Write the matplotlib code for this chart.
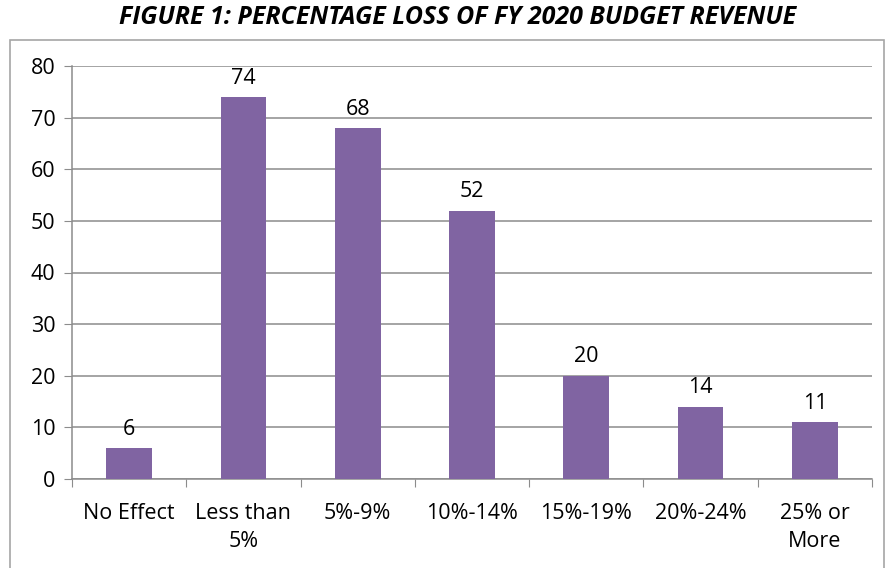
import matplotlib.pyplot as plt
from matplotlib.patches import Rectangle
from matplotlib import font_manager

categories = ["No Effect", "Less than\n5%", "5%-9%", "10%-14%", "15%-19%", "20%-24%", "25% or\nMore"]
values = [6, 74, 68, 52, 20, 14, 11]
yticks = [0, 10, 20, 30, 40, 50, 60, 70, 80]

names = {f.name for f in font_manager.fontManager.ttflist}
body_font = "Open Sans" if "Open Sans" in names else "DejaVu Sans"

purple = "#8064A2"
grid_col = "#8c8c8c"

fig = plt.figure(figsize=(8.86, 5.68), dpi=100)
fig.patches.append(Rectangle((10 / 886, -10 / 568), 874 / 886, 538 / 568, transform=fig.transFigure,
                             fill=False, edgecolor="#a6a6a6", linewidth=1.2))
ax = fig.add_axes([72 / 886, 1 - 479 / 568, 800 / 886, 413 / 568])

x = list(range(len(categories)))
ax.bar(x, values, width=0.4, color=purple, zorder=3)
for xi, v in zip(x, values):
    ax.annotate(str(v), (xi, v), xytext=(0, 6), textcoords="offset points", ha="center", va="bottom",
                fontsize=15.5, family=body_font)

ax.set_xlim(-0.5, len(categories) - 0.5)
ax.set_ylim(0, 80)
ax.set_yticks(yticks)
ax.set_yticklabels([str(t) for t in yticks], fontsize=15.5, family=body_font)
ax.yaxis.grid(True, color=grid_col, linewidth=1.1, zorder=0)
ax.tick_params(axis="y", length=6, color=grid_col, pad=6)

ax.set_xticks([i - 0.5 for i in range(len(categories) + 1)])
ax.set_xticklabels([])
ax.set_xticks(x, minor=True)
ax.set_xticklabels(categories, minor=True, fontsize=15.5, family=body_font, linespacing=1.45)
ax.tick_params(axis="x", which="major", length=6, color=grid_col)
ax.tick_params(axis="x", which="minor", length=0, pad=17)

for s in ["top", "right"]:
    ax.spines[s].set_visible(False)
for s in ["left", "bottom"]:
    ax.spines[s].set_color(grid_col)
    ax.spines[s].set_linewidth(1.1)

fig.text(458 / 886, 1 - 18 / 568, "FIGURE 1: PERCENTAGE LOSS OF FY 2020 BUDGET REVENUE", ha="center", va="center",
         fontsize=18, fontweight="bold", fontstyle="italic", family=body_font)

fig.savefig("out.png", dpi=100)
